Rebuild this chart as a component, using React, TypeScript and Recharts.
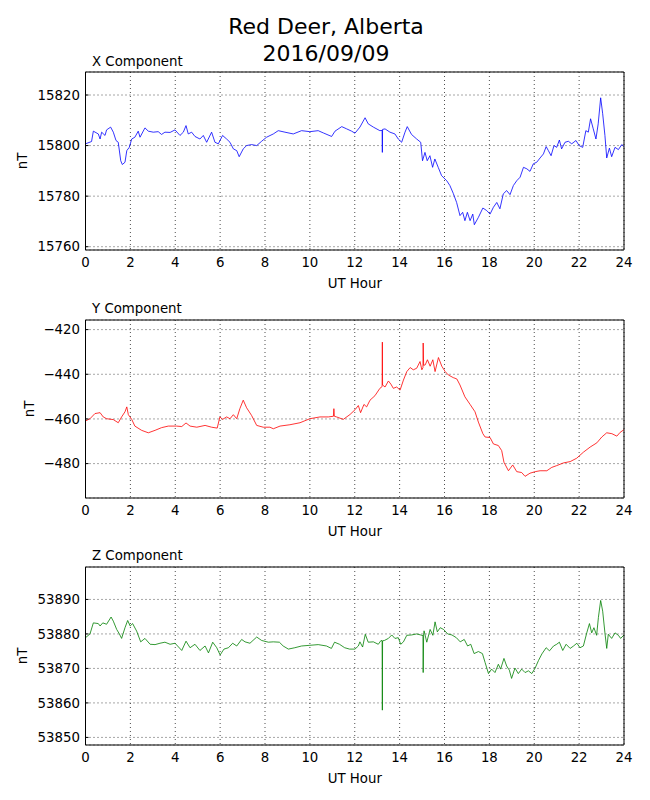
import React from "react";
import { LineChart, Line, XAxis, YAxis, CartesianGrid } from "recharts";

// hours 0..24, labelled every 2 h, small ticks every hour
const HOUR_TICKS = [0, 2, 4, 6, 8, 10, 12, 14, 16, 18, 20, 22, 24];
const MINOR_TICKS = Array.from({ length: 25 }, (_, i) => i);

const X_TICKS = [15760, 15780, 15800, 15820];
const Y_TICKS = [-480, -460, -440, -420];
const Z_TICKS = [53850, 53860, 53870, 53880, 53890];

const xHours = [
  0.0, 0.27, 0.35, 0.57, 0.65, 0.72, 0.87, 0.94, 1.12, 1.24, 1.36, 1.46, 1.57, 1.64, 1.76, 1.84, 1.95,
  2.06, 2.2, 2.35, 2.43, 2.65, 2.8, 3.02, 3.24, 3.39, 3.54, 3.77, 3.99, 4.21, 4.36, 4.48, 4.58, 4.73,
  4.88, 5.1, 5.25, 5.4, 5.62, 5.77, 5.92, 6.11, 6.29, 6.44, 6.59, 6.74, 6.85, 7.03, 7.18, 7.4, 7.63,
  7.85, 8.07, 8.37, 8.59, 8.89, 9.26, 9.63, 10.0, 10.37, 10.6, 10.97, 11.12, 11.42, 11.64, 11.86,
  12.01, 12.23, 12.46, 12.6, 12.83, 13.12, 13.22, 13.23, 13.24, 13.35, 13.57, 13.79, 13.94, 14.09,
  14.24, 14.34, 14.53, 14.76, 14.94, 15.02, 15.13, 15.23, 15.35, 15.47, 15.57, 15.72, 15.87, 16.1,
  16.24, 16.39, 16.54, 16.69, 16.81, 16.91, 17.02, 17.14, 17.26, 17.33, 17.51, 17.71, 17.88, 18.03,
  18.18, 18.33, 18.47, 18.62, 18.77, 18.92, 19.07, 19.22, 19.37, 19.52, 19.67, 19.81, 19.96, 20.11,
  20.26, 20.41, 20.53, 20.63, 20.75, 20.88, 21.0, 21.12, 21.22, 21.37, 21.52, 21.67, 21.86, 22.0,
  22.16, 22.3, 22.41, 22.51, 22.63, 22.75, 22.85, 22.96, 23.05, 23.15, 23.23, 23.35, 23.45, 23.6,
  23.75, 23.9, 24.0,
];
const xValues = [
  15800.7, 15801.6, 15805.7, 15804.6, 15802.6, 15805.3, 15804.0, 15806.2, 15807.3, 15805.3, 15802.0,
  15801.3, 15794.0, 15792.5, 15793.4, 15798.0, 15799.3, 15802.6, 15803.3, 15805.7, 15803.3, 15807.0,
  15805.7, 15805.3, 15805.5, 15804.4, 15805.3, 15805.2, 15806.2, 15804.0, 15805.3, 15807.9, 15804.6,
  15805.3, 15803.6, 15802.6, 15804.0, 15801.3, 15805.3, 15801.3, 15800.7, 15804.0, 15802.6, 15801.3,
  15798.7, 15798.0, 15795.6, 15798.7, 15800.0, 15800.4, 15800.0, 15801.7, 15803.3, 15804.6, 15805.9,
  15805.3, 15804.6, 15805.9, 15805.5, 15805.9, 15805.0, 15803.6, 15805.7, 15807.5, 15806.6, 15805.7,
  15804.9, 15807.3, 15811.0, 15808.6, 15807.3, 15805.9, 15806.0, 15797.3, 15806.4, 15806.6, 15805.3,
  15804.6, 15802.6, 15801.3, 15805.3, 15807.5, 15804.4, 15802.6, 15801.3, 15794.0, 15797.3, 15794.0,
  15796.0, 15791.4, 15794.7, 15791.4, 15788.1, 15786.1, 15784.2, 15781.1, 15777.5, 15772.3, 15773.6,
  15770.3, 15773.6, 15770.3, 15772.9, 15768.7, 15771.6, 15775.3, 15774.3, 15772.9, 15775.6, 15777.5,
  15775.0, 15780.9, 15782.2, 15780.6, 15784.2, 15786.1, 15787.5, 15791.4, 15790.8, 15789.8, 15792.8,
  15793.4, 15795.1, 15796.7, 15799.6, 15798.0, 15796.0, 15800.0, 15799.3, 15802.2, 15798.7, 15801.3,
  15801.7, 15800.7, 15802.0, 15800.0, 15799.3, 15805.9, 15805.3, 15810.6, 15806.6, 15802.6, 15808.6,
  15818.9, 15812.6, 15804.0, 15795.1, 15799.0, 15795.6, 15799.3, 15798.4, 15800.4, 15799.6,
];

const yHours = [
  0.0, 0.2, 0.42, 0.65, 0.79, 0.94, 1.24, 1.46, 1.61, 1.76, 1.84, 1.91, 2.06, 2.2, 2.5, 2.8, 3.1,
  3.39, 3.69, 4.06, 4.29, 4.48, 4.66, 4.96, 5.33, 5.62, 5.87, 5.99, 6.11, 6.29, 6.44, 6.59, 6.74,
  6.88, 7.03, 7.18, 7.4, 7.63, 7.92, 8.22, 8.37, 8.67, 9.11, 9.56, 10.0, 10.45, 10.82, 11.05, 11.07,
  11.09, 11.19, 11.49, 11.79, 12.01, 12.16, 12.26, 12.41, 12.53, 12.68, 12.9, 13.12, 13.22, 13.23,
  13.24, 13.35, 13.5, 13.61, 13.72, 13.87, 14.02, 14.17, 14.32, 14.47, 14.61, 14.76, 14.91, 14.99,
  15.04, 15.05, 15.07, 15.14, 15.24, 15.36, 15.48, 15.58, 15.73, 15.88, 16.03, 16.17, 16.39, 16.55,
  16.69, 16.91, 17.14, 17.36, 17.51, 17.71, 17.81, 18.03, 18.18, 18.4, 18.55, 18.65, 18.85, 19.04,
  19.22, 19.44, 19.59, 19.81, 20.04, 20.26, 20.56, 20.78, 21.0, 21.3, 21.6, 21.89, 22.19, 22.49,
  22.79, 23.01, 23.23, 23.46, 23.68, 23.83, 24.0,
];
const yValues = [
  -460.9, -459.9, -457.6, -457.2, -459.1, -459.9, -460.3, -461.7, -459.1, -456.8, -454.6, -458.1,
  -460.2, -463.2, -465.1, -466.2, -465.1, -463.9, -463.2, -463.2, -463.4, -461.8, -463.2, -463.7,
  -462.9, -463.7, -464.1, -459.1, -460.2, -459.1, -459.9, -458.1, -459.9, -455.4, -451.6, -455.0,
  -458.4, -462.9, -463.7, -463.7, -464.4, -463.2, -462.6, -461.7, -459.9, -459.1, -459.1, -458.8,
  -455.4, -458.8, -459.1, -460.2, -458.0, -455.9, -454.0, -457.2, -453.5, -454.6, -451.6, -449.6,
  -446.3, -445.5, -425.6, -444.8, -445.7, -443.0, -444.4, -446.3, -445.7, -447.1, -442.6, -438.8,
  -437.0, -438.0, -437.3, -434.3, -438.0, -437.0, -426.0, -436.0, -435.8, -433.5, -436.4, -433.5,
  -438.8, -432.5, -436.4, -438.8, -440.3, -441.5, -442.1, -444.8, -450.1, -453.5, -456.8, -461.4,
  -466.6, -468.1, -468.3, -471.2, -471.9, -474.2, -479.4, -483.2, -480.6, -483.6, -484.0, -485.7,
  -484.3, -483.6, -483.2, -483.2, -481.7, -480.9, -479.7, -479.1, -477.6, -474.9, -472.6, -470.7,
  -468.1, -466.2, -466.6, -467.7, -466.0, -464.8,
];

const zHours = [
  0.0, 0.2, 0.35, 0.57, 0.65, 0.77, 0.94, 1.14, 1.24, 1.39, 1.51, 1.61, 1.76, 1.88, 1.99, 2.1, 2.28,
  2.46, 2.65, 2.88, 3.1, 3.32, 3.54, 3.77, 3.99, 4.29, 4.48, 4.66, 4.88, 5.1, 5.33, 5.48, 5.67, 5.85,
  6.0, 6.17, 6.37, 6.56, 6.74, 6.96, 7.11, 7.33, 7.63, 7.85, 8.15, 8.37, 8.64, 8.81, 9.04, 9.33,
  9.63, 10.0, 10.37, 10.74, 10.96, 11.1, 11.32, 11.55, 11.77, 12.01, 12.16, 12.23, 12.35, 12.47,
  12.6, 12.83, 13.05, 13.17, 13.22, 13.23, 13.24, 13.32, 13.5, 13.65, 13.79, 13.94, 14.05, 14.17,
  14.32, 14.53, 14.76, 14.94, 15.04, 15.05, 15.07, 15.09, 15.21, 15.36, 15.48, 15.58, 15.68, 15.81,
  15.96, 16.14, 16.33, 16.53, 16.7, 16.88, 17.03, 17.17, 17.32, 17.51, 17.69, 17.81, 17.96, 18.1,
  18.25, 18.4, 18.5, 18.65, 18.77, 18.89, 18.99, 19.14, 19.29, 19.44, 19.59, 19.74, 19.89, 20.04,
  20.19, 20.34, 20.53, 20.68, 20.86, 21.0, 21.12, 21.27, 21.42, 21.6, 21.75, 21.9, 22.04, 22.19,
  22.34, 22.46, 22.56, 22.66, 22.78, 22.86, 22.96, 23.05, 23.15, 23.23, 23.3, 23.45, 23.6, 23.75,
  23.85, 24.0,
];
const zValues = [
  53878.9, 53880.0, 53883.2, 53883.0, 53882.3, 53883.2, 53882.8, 53884.9, 53883.7, 53881.3, 53880.0,
  53878.7, 53881.8, 53883.9, 53882.3, 53883.0, 53880.8, 53877.7, 53878.7, 53877.0, 53876.9, 53877.3,
  53877.6, 53877.0, 53877.3, 53875.2, 53877.9, 53876.0, 53877.0, 53875.2, 53876.5, 53874.5, 53877.6,
  53876.0, 53873.9, 53875.6, 53876.0, 53877.3, 53876.5, 53878.4, 53877.7, 53877.3, 53879.1, 53878.1,
  53877.6, 53877.7, 53877.6, 53876.5, 53875.6, 53876.0, 53876.5, 53876.7, 53876.9, 53876.5, 53875.8,
  53877.6, 53877.0, 53876.0, 53875.6, 53875.6, 53876.5, 53877.7, 53876.2, 53879.9, 53877.6, 53877.7,
  53877.0, 53878.1, 53878.0, 53857.9, 53878.0, 53878.1, 53878.7, 53879.7, 53878.7, 53878.9, 53877.0,
  53877.7, 53879.6, 53879.7, 53880.0, 53879.7, 53879.5, 53868.8, 53880.0, 53880.9, 53877.6, 53881.3,
  53879.6, 53883.5, 53880.6, 53881.8, 53881.3, 53880.0, 53879.7, 53878.9, 53877.7, 53878.4, 53876.5,
  53877.0, 53874.3, 53874.9, 53874.3, 53871.7, 53868.5, 53869.8, 53868.8, 53871.2, 53869.8, 53872.9,
  53870.7, 53869.5, 53867.1, 53870.1, 53868.5, 53869.8, 53868.8, 53869.3, 53868.5, 53870.1, 53872.3,
  53874.2, 53876.0, 53875.1, 53876.5, 53877.0, 53877.6, 53875.2, 53877.0, 53875.8, 53876.5, 53877.3,
  53876.0, 53876.5, 53880.3, 53883.0, 53880.3, 53881.8, 53879.6, 53884.8, 53889.7, 53886.6, 53880.3,
  53875.8, 53879.9, 53878.7, 53880.3, 53879.6, 53878.7, 53879.7,
];

const FONT = "'DejaVu Sans', sans-serif";
const FS = 13.33;
const TICK_STYLE = { fill: "#000", fontSize: FS, fontFamily: FONT };
const PLOT_H = 178;

const fmtTick = (v: number) => (v < 0 ? `\u2212${Math.abs(v)}` : String(v));

interface PanelProps {
  title: string;
  hours: number[];
  values: number[];
  color: string;
  domain: [number, number];
  ticks: number[];
  plotTop: number;
  nTx: number;
}

function Panel({ title, hours, values, color, domain, ticks, plotTop, nTx }: PanelProps) {
  const data = hours.map((h, i) => ({ h, v: values[i] }));
  return (
    <>
      <div style={{ position: "absolute", left: 92, top: plotTop - 18.5, fontSize: FS, lineHeight: "15px" }}>
        {title}
      </div>
      <div
        style={{
          position: "absolute",
          left: nTx,
          top: plotTop + PLOT_H / 2,
          fontSize: FS,
          lineHeight: "15px",
          transform: "translate(-50%, -50%) rotate(-90deg)",
        }}
      >
        nT
      </div>
      <div
        style={{
          position: "absolute",
          left: 85.5,
          width: 538.5,
          top: plotTop + PLOT_H + 26,
          fontSize: FS,
          lineHeight: "15px",
          textAlign: "center",
        }}
      >
        UT Hour
      </div>
      <div style={{ position: "absolute", left: 0, top: plotTop - 5 }}>
        <LineChart width={650} height={5 + PLOT_H + 30} data={data} margin={{ top: 5, right: 26, bottom: 0, left: 0 }}>
          <CartesianGrid stroke="#000" strokeDasharray="1 3" strokeWidth={0.7} />
          <XAxis
            dataKey="h"
            type="number"
            domain={[0, 24]}
            allowDataOverflow
            ticks={HOUR_TICKS}
            interval={0}
            tickLine={false}
            tickSize={0}
            tickMargin={7.3}
            axisLine={{ stroke: "#000" }}
            tick={TICK_STYLE}
            height={30}
          />
          {/* inward minor ticks, bottom and top */}
          <XAxis
            xAxisId="mb"
            orientation="bottom"
            mirror
            type="number"
            domain={[0, 24]}
            allowDataOverflow
            ticks={MINOR_TICKS}
            interval={0}
            tick={false}
            tickSize={3}
            tickLine={{ stroke: "#000" }}
            axisLine={false}
            height={1}
          />
          <XAxis
            xAxisId="mt"
            orientation="top"
            mirror
            type="number"
            domain={[0, 24]}
            allowDataOverflow
            ticks={MINOR_TICKS}
            interval={0}
            tick={false}
            tickSize={3}
            tickLine={{ stroke: "#000" }}
            axisLine={{ stroke: "#000" }}
            height={1}
          />
          <YAxis
            type="number"
            domain={domain}
            allowDataOverflow
            ticks={ticks}
            interval={0}
            tickSize={-3}
            tickMargin={8.5}
            tickLine={{ stroke: "#000" }}
            axisLine={{ stroke: "#000" }}
            tick={TICK_STYLE}
            tickFormatter={fmtTick}
            width={85.5}
          />
          <YAxis
            yAxisId="mr"
            orientation="right"
            mirror
            type="number"
            domain={domain}
            allowDataOverflow
            ticks={ticks}
            interval={0}
            tick={false}
            tickSize={3}
            tickLine={{ stroke: "#000" }}
            axisLine={{ stroke: "#000" }}
            width={1}
          />
          <Line
            type="linear"
            dataKey="v"
            stroke={color}
            strokeWidth={0.8}
            dot={false}
            isAnimationActive={false}
          />
        </LineChart>
      </div>
    </>
  );
}

export default function App() {
  return (
    <div
      style={{
        position: "absolute",
        left: 0,
        top: 0,
        width: 650,
        height: 800,
        background: "#fff",
        fontFamily: FONT,
        color: "#000",
      }}
    >
      <div style={{ position: "absolute", left: 0, width: 652, top: 14.4, fontSize: 22, lineHeight: "26px", textAlign: "center" }}>
        Red Deer, Alberta
      </div>
      <div style={{ position: "absolute", left: 0, width: 652, top: 41, fontSize: 22, lineHeight: "26px", textAlign: "center" }}>
        2016/09/09
      </div>
      <Panel
        title="X Component"
        hours={xHours}
        values={xValues}
        color="#0000ff"
        domain={[15758.7, 15829.1]}
        ticks={X_TICKS}
        plotTop={72}
        nTx={22}
      />
      <Panel
        title="Y Component"
        hours={yHours}
        values={yValues}
        color="#ff0000"
        domain={[-495.4, -415.7]}
        ticks={Y_TICKS}
        plotTop={319.5}
        nTx={29}
      />
      <Panel
        title="Z Component"
        hours={zHours}
        values={zValues}
        color="#008000"
        domain={[53847.8, 53899.4]}
        ticks={Z_TICKS}
        plotTop={566.5}
        nTx={22}
      />
    </div>
  );
}
